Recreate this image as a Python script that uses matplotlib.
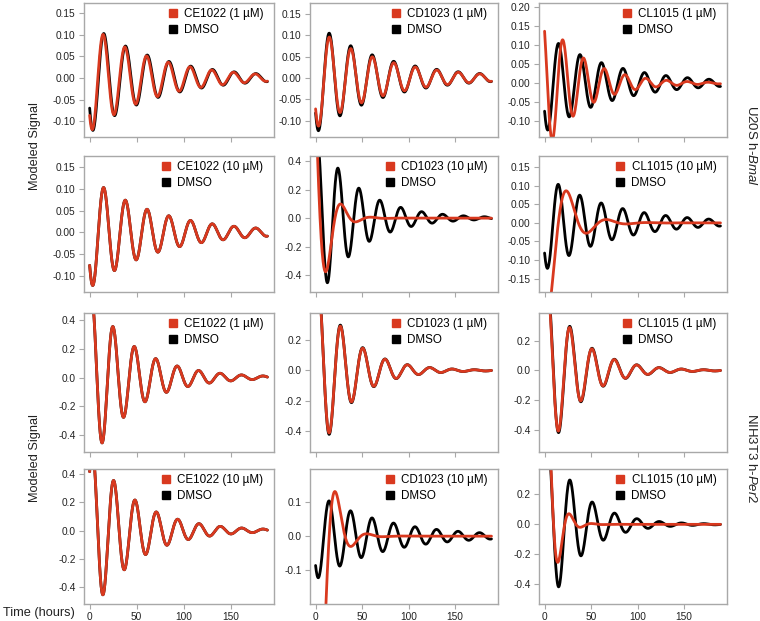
import numpy as np
import matplotlib
matplotlib.use("Agg")
import matplotlib.pyplot as plt
from matplotlib.lines import Line2D
from matplotlib.ticker import FormatStrFormatter

plt.rcParams['font.family'] = ['Liberation Sans', 'DejaVu Sans']
plt.rcParams['axes.unicode_minus'] = False
plt.rcParams['mathtext.fontset'] = 'custom'
plt.rcParams['mathtext.it'] = 'Liberation Sans:italic'
plt.rcParams['mathtext.rm'] = 'Liberation Sans'

# ---------------- data ----------------
compounds = ['CE1022', 'CD1023', 'CL1015']
row_doses = ['1 µM', '10 µM', '1 µM', '10 µM']
cell_lines = ['U20S h-$\\it{Bmal}$', 'NIH3T3 h-$\\it{Per2}$']
time_hours = np.arange(0, 189.25, 0.25)
x_ticks = [0, 50, 100, 150]

# Modeled damped-rhythm parameters per panel (row-major order, 12 panels)
dmso_amplitude = [0.128, 0.129, 0.129, 0.128, 0.605, 0.128, 0.608, 0.640, 0.645, 0.617, 0.128, 0.645]
dmso_damping_h = [70, 70, 70, 70, 44, 70, 46, 35, 35, 46, 70, 35]
dmso_period_h = [23.1, 23.1, 23.1, 23.1, 22.5, 23.1, 22.8, 24.0, 24.0, 22.7, 23.1, 24.0]
dmso_peak_h = [15.2, 14.8, 15.1, 15.0, 24.2, 14.8, 24.9, 27.0, 27.4, 25.7, 14.6, 27.5]

drug_amplitude = [0.125, 0.118, 0.183, 0.128, 1.00, 0.31, 0.608, 0.625, 0.625, 0.617, 0.868, 1.23]
drug_damping_h = [68, 70, 41, 70, 12, 19, 46, 35, 35, 46, 11.6, 9.4]
drug_period_h = [23.1, 23.1, 22.3, 23.1, 32, 43, 22.8, 24.0, 24.0, 22.7, 34, 24.0]
drug_peak_h = [14.5, 14.9, 19.7, 15.0, 28.8, 25.5, 24.9, 27.0, 27.2, 25.7, 23.1, 27.6]

# axis ranges and ticks per panel
y_limits = [(-0.137, 0.174), (-0.138, 0.175), (-0.141, 0.210),
            (-0.137, 0.176), (-0.517, 0.435), (-0.186, 0.180),
            (-0.518, 0.449), (-0.535, 0.377), (-0.548, 0.386),
            (-0.518, 0.435), (-0.200, 0.198), (-0.531, 0.369)]
y_ticks = [[-0.10, -0.05, 0.0, 0.05, 0.10, 0.15],
           [-0.10, -0.05, 0.0, 0.05, 0.10, 0.15],
           [-0.10, -0.05, 0.0, 0.05, 0.10, 0.15, 0.20],
           [-0.10, -0.05, 0.0, 0.05, 0.10, 0.15],
           [-0.4, -0.2, 0.0, 0.2, 0.4],
           [-0.15, -0.10, -0.05, 0.0, 0.05, 0.10, 0.15],
           [-0.4, -0.2, 0.0, 0.2, 0.4],
           [-0.4, -0.2, 0.0, 0.2],
           [-0.4, -0.2, 0.0, 0.2],
           [-0.4, -0.2, 0.0, 0.2, 0.4],
           [-0.1, 0.0, 0.1],
           [-0.4, -0.2, 0.0, 0.2]]
y_decimals = [2, 2, 2, 2, 1, 2, 1, 1, 1, 1, 1, 1]

# ---------------- layout / style ----------------
W, H = 760, 621
RED = '#d9391f'
FRAME = '#a8a8a8'
col_px = [(84, 274), (310, 498), (539, 727)]
row_px = [(3, 137), (156, 292), (313, 452), (469, 604)]

fig = plt.figure(figsize=(W / 100, H / 100), dpi=100)


def signal(t, amp, tau, period, peak):
    return amp * np.exp(-t / tau) * np.cos(2 * np.pi * (t - peak) / period)


for r in range(4):
    for c in range(3):
        i = r * 3 + c
        l, rr = col_px[c]
        t, b = row_px[r]
        aw, ah = rr - l, b - t
        ax = fig.add_axes([l / W, 1 - b / H, aw / W, ah / H])
        y_dmso = signal(time_hours, dmso_amplitude[i], dmso_damping_h[i], dmso_period_h[i], dmso_peak_h[i])
        y_drug = signal(time_hours, drug_amplitude[i], drug_damping_h[i], drug_period_h[i], drug_peak_h[i])
        ax.plot(time_hours, y_dmso, color='black', lw=2.0, solid_capstyle='round')
        ax.plot(time_hours, y_drug, color=RED, lw=2.0, solid_capstyle='round')
        ax.set_xlim(-6, 196)
        ax.set_ylim(*y_limits[i])
        ax.set_xticks(x_ticks)
        ax.set_yticks(y_ticks[i])
        ax.yaxis.set_major_formatter(FormatStrFormatter('%%.%df' % y_decimals[i]))
        ax.tick_params(direction='out', length=3.5, width=0.8, color=FRAME,
                       labelsize=7.3, labelcolor='#222222', pad=2.5)
        if r < 3:
            ax.tick_params(axis='x', labelbottom=False)
        for s in ax.spines.values():
            s.set_color(FRAME)
            s.set_linewidth(1.0)
        handles = [Line2D([], [], ls='none', marker='s', markersize=6.2, color=RED),
                   Line2D([], [], ls='none', marker='s', markersize=6.2, color='black')]
        labels = ['%s (%s)' % (compounds[c], row_doses[r]), 'DMSO']
        ax.legend(handles, labels, loc='upper right', frameon=False, fontsize=8.4,
                  handletextpad=0.45, handlelength=1.0, borderpad=0.15,
                  borderaxespad=0.0, labelspacing=0.38,
                  bbox_to_anchor=(1 - 9 / aw, 1 - 3 / ah), bbox_transform=ax.transAxes)

# side labels
for k, yc in enumerate([146, 458]):
    fig.text(35 / W, 1 - yc / H, 'Modeled Signal', rotation=90, ha='center', va='center',
             fontsize=9.2, color='#222222')
    fig.text(752 / W, 1 - yc / H, cell_lines[k], rotation=270, ha='center', va='center',
             fontsize=9.5, color='#222222')

fig.text(3 / W, 1 - 613 / H, 'Time (hours)', ha='left', va='center', fontsize=9.2, color='#222222')

fig.savefig('out.png', dpi=100)
